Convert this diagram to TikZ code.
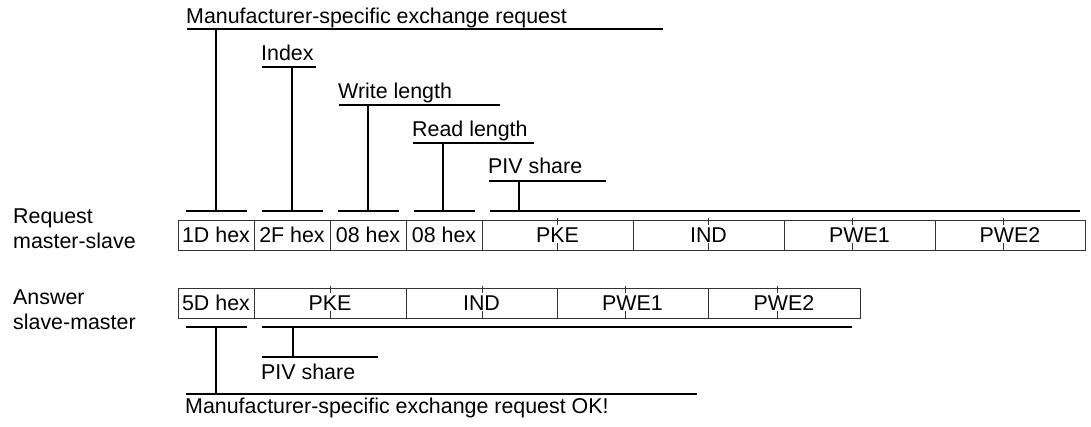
\documentclass[tikz,border=0pt]{standalone}
\usepackage{fontspec}
\setmainfont{Liberation Sans}
\begin{document}
\begin{tikzpicture}[x=1pt,y=-1pt,
  lbl/.style={inner sep=0pt, anchor=base west, font=\fontsize{21.4}{25}\selectfont},
  side/.style={inner sep=0pt, anchor=north west, align=left, font=\fontsize{21.4}{25}\selectfont},
  cell/.style={draw=black!80, line width=0.9pt, minimum height=30pt, inner sep=0pt, font=\fontsize{21.4}{25}\selectfont},
  bracket/.style={line width=2.6pt, line cap=butt},
  tick/.style={draw=black!80, line width=0.9pt}]
\useasboundingbox (0,0) rectangle (1091,426);

% side labels
\node[side] (req) at (13,209) {Request\\master-slave};
\node[side] (ans) at (13,290) {Answer\\slave-master};

% request row
\node[cell, minimum width=76pt]  (r1) at (216,235)    {1D hex};
\node[cell, minimum width=76pt]  (r2) at (292,235)    {2F hex};
\node[cell, minimum width=76pt]  (r3) at (368,235)    {08 hex};
\node[cell, minimum width=76pt]  (r4) at (444,235)    {08 hex};
\node[cell, minimum width=151pt] (r5) at (557.5,235)  {PKE};
\node[cell, minimum width=151pt] (r6) at (708.5,235)  {IND};
\node[cell, minimum width=151pt] (r7) at (859.5,235)  {PWE1};
\node[cell, minimum width=150pt] (r8) at (1010,235)   {PWE2};

% answer row
\node[cell, minimum width=76pt]  (a1) at (216,303)    {5D hex};
\node[cell, minimum width=152pt] (a2) at (330,303)    {PKE};
\node[cell, minimum width=151pt] (a3) at (481.5,303)  {IND};
\node[cell, minimum width=151pt] (a4) at (632.5,303)  {PWE1};
\node[cell, minimum width=152pt] (a5) at (784,303)    {PWE2};

% small ticks
\foreach \n/\d in {r5/-0.5, r6/-0.5, r7/-7.5, r8/-7, a2/0, a3/0.5, a4/-7.5, a5/-7}{
  \draw[tick] ([xshift=\d pt, yshift=2pt]\n.north) -- ([xshift=\d pt, yshift=-5pt]\n.north);
  \draw[tick] ([xshift=\d pt, yshift=7pt]\n.south) -- ([xshift=\d pt]\n.south);
}

% top brackets
\foreach \i/\txt/\lx/\base/\ly/\rx/\vx/\sl/\sr in {
  1/Manufacturer-specific exchange request/186/23/29/663/216/186/247,
  2/Index/261/60/67/316/292/262/323,
  3/Write length/338/98/105/500/368/338/399,
  4/Read length/412/136/143/534/443/414/475,
  5/PIV share/488/173/181/606/519/490/1080}{
  \node[lbl] (t\i) at (\lx,\base) {\txt};
  \coordinate (tl\i) at (\lx+1,\ly);
  \coordinate (tr\i) at (\rx,\ly);
  \coordinate (tv\i) at (\vx,\ly);
  \coordinate (sl\i) at (\sl,211);
  \coordinate (sr\i) at (\sr,211);
  \coordinate (sv\i) at (\vx,211);
  \draw[bracket] (tl\i) -- (tr\i);
  \draw[bracket] (sl\i) -- (sr\i);
  \draw[bracket] (tv\i) -- (sv\i);
}

% bottom brackets
\coordinate (bs1l) at (186,327);
\coordinate (bs1r) at (247,327);
\coordinate (bs1v) at (216,327);
\coordinate (bs2l) at (262,327);
\coordinate (bs2r) at (852,327);
\coordinate (bs2v) at (293,327);
\draw[bracket] (bs1l) -- (bs1r);
\draw[bracket] (bs2l) -- (bs2r);

\coordinate (piv l) at (262,357);
\coordinate (piv r) at (378,357);
\coordinate (piv v) at (293,357);
\draw[bracket] (piv l) -- (piv r);
\draw[bracket] (bs2v) -- (piv v);
\node[lbl] (pivtxt) at (261,379) {PIV share};

\coordinate (ok l) at (186,394);
\coordinate (ok r) at (697,394);
\coordinate (ok v) at (216,394);
\draw[bracket] (ok l) -- (ok r);
\draw[bracket] (bs1v) -- (ok v);
\node[lbl] (oktxt) at (185,413) {Manufacturer-specific exchange request OK!};
\end{tikzpicture}
\end{document}
